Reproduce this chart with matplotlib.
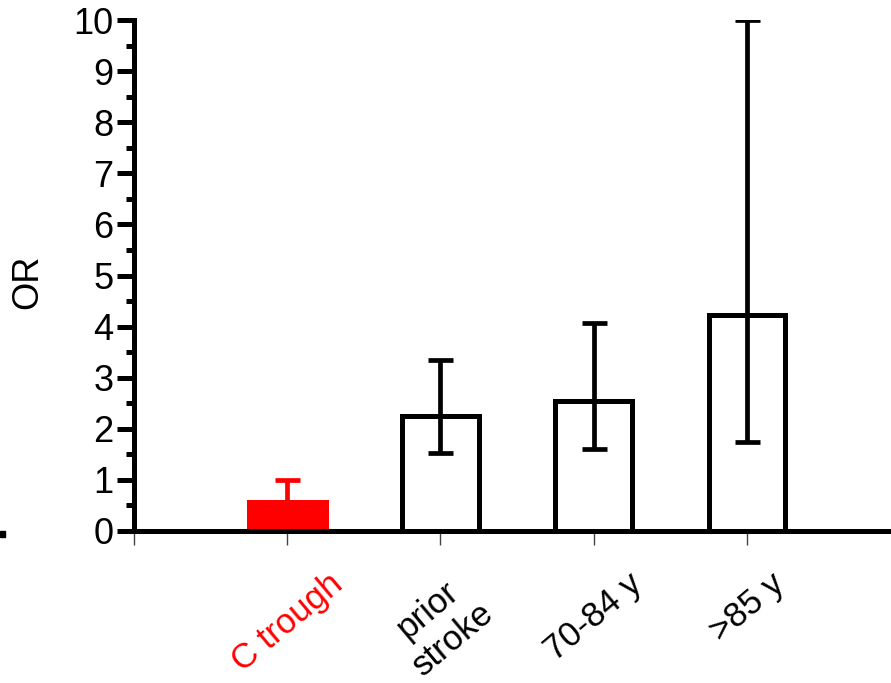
import matplotlib
matplotlib.use("Agg")
import matplotlib.pyplot as plt
from matplotlib.ticker import MultipleLocator
from matplotlib.patches import Rectangle

plt.rcParams['font.family'] = ['Liberation Sans', 'DejaVu Sans']

categories = ["C trough", "prior\nstroke", "70-84 y", ">85 y"]
values = [0.57, 2.25, 2.55, 4.23]
err_low = [0.57, 1.53, 1.60, 1.75]
err_high = [1.00, 3.35, 4.07, 10.0]
colors = ["#ff0000", "white", "white", "white"]
edge_colors = ["#ff0000", "black", "black", "black"]
label_colors = ["#ff0000", "black", "black", "black"]

fig = plt.figure(figsize=(8.91, 6.83), dpi=100)
ax = fig.add_axes([134/891, 152/683, (891-134)/891, 511/683])

x = [1, 2, 3, 4]
for i in range(4):
    ax.bar(x[i], values[i], width=0.5, color=colors[i], edgecolor=edge_colors[i],
           linewidth=3.6, zorder=2)
    if i == 0:
        lower = 0
    else:
        lower = values[i] - err_low[i]
    upper = err_high[i] - values[i]
    ax.errorbar(x[i], values[i], yerr=[[lower], [upper]], fmt='none',
                ecolor=edge_colors[i], elinewidth=3.4, capsize=9, capthick=3.4, zorder=3)

ax.set_xlim(0, 4.94)
ax.set_ylim(0, 10)
ax.set_xticks([0] + x)
ax.set_xticklabels([""] + categories, rotation=40, ha='center', fontsize=25)
for lbl, c in zip(ax.get_xticklabels()[1:], label_colors):
    lbl.set_color(c)
ax.tick_params(axis='x', length=10, width=1, color='#444444', pad=16)

ax.yaxis.set_major_locator(MultipleLocator(1))
ax.yaxis.set_minor_locator(MultipleLocator(0.5))
ax.tick_params(axis='y', which='major', length=12, width=3.6, labelsize=26, pad=3)
ax.tick_params(axis='y', which='minor', length=6, width=3.6)

for s in ['top', 'right']:
    ax.spines[s].set_visible(False)
ax.spines['left'].set_linewidth(3.6)
ax.spines['bottom'].set_linewidth(3.6)
ax.spines['left'].set_capstyle('projecting')

ax.set_ylabel("OR", fontsize=26)
ax.yaxis.label.set_va('center')
ax.yaxis.label.set_ha('center')
ax.yaxis.set_label_coords((28 - 134) / 757, (531 - 282) / 511)

fig.patches.append(Rectangle((0, 146/683), 5/891, 6/683, transform=fig.transFigure,
                             color='black', figure=fig))

fig.savefig("out.png", dpi=100)
